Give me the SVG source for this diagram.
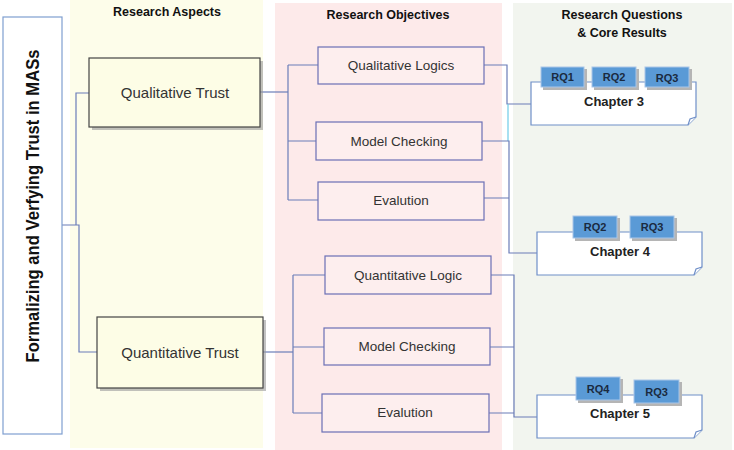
<svg xmlns="http://www.w3.org/2000/svg" width="734" height="450" viewBox="0 0 734 450">
<defs>
<style>
.hdr{font-family:"Liberation Sans",Arial,sans-serif;font-weight:bold;font-size:12.5px;fill:#111;text-anchor:middle;dominant-baseline:central}
.aspect{fill:#fdfde6;stroke:#444;stroke-width:1.2}
.shadow{fill:#9a9a9a;opacity:0.6}
.aspectTxt{font-family:"Liberation Sans",Arial,sans-serif;font-size:15px;fill:#333;text-anchor:middle;dominant-baseline:central}
.obj{fill:#fdeeee;stroke:#6b6fb5;stroke-width:1.2}
.objTxt{font-family:"Liberation Sans",Arial,sans-serif;font-size:13.5px;fill:#333;text-anchor:middle;dominant-baseline:central}
.chap{fill:#fff;stroke:#6f8fc8;stroke-width:1.2}
.chapTxt{font-family:"Liberation Sans",Arial,sans-serif;font-weight:bold;font-size:13px;fill:#222;text-anchor:middle;dominant-baseline:central}
.rq{fill:#5a9ad6;stroke:#a9c6e8;stroke-width:1}
.rqsh{fill:#b5b5b5}
.rqTxt{font-family:"Liberation Sans",Arial,sans-serif;font-weight:bold;font-size:11px;fill:#1a2a40;text-anchor:middle;dominant-baseline:central}
.conn{fill:none;stroke:#6b7db8;stroke-width:1.2}
</style>
</defs>
<!-- background panels -->
<rect x="70" y="0" width="193" height="448" fill="#fdfdea"/>
<rect x="275" y="3" width="227" height="447" fill="#fdeaea"/>
<rect x="513" y="3" width="219" height="447" fill="#f2f5ef"/>
<text class="hdr" x="167" y="12">Research Aspects</text>
<text class="hdr" x="388" y="15">Research Objectives</text>
<text class="hdr" x="622" y="15">Research Questions</text>
<text class="hdr" x="622" y="33">&amp; Core Results</text>

<g id="connectors">
<path class="conn" d="M62,225 H79 V352 H97"/>
<path class="conn" d="M76,225 V93 H89"/>
<path class="conn" d="M260,92 H288"/>
<path class="conn" d="M288,65 V200 M288,65 H318 M288,141 H316 M288,200 H318"/>
<path class="conn" d="M263,352 H293"/>
<path class="conn" d="M293,275 V413 M293,275 H325 M293,347 H324 M293,413 H322"/>
<path class="conn" d="M484,65 H507 V104 H531"/>
<path d="M508,104 V141" stroke="#6fcbe8" stroke-width="1.2" fill="none"/>
<path class="conn" d="M482,141 H509 V253 H537 M484,198 H509"/>
<path class="conn" d="M491,275 H514 V417 H537 M490,347 H514 M489,413 H514"/>
</g>

<g id="main">
<rect x="3" y="17" width="59" height="417" fill="#fff" stroke="#7f9fd0" stroke-width="1.2"/>
<text x="33" y="206" transform="rotate(-90 33 206)" font-family="'Liberation Sans',Arial,sans-serif" font-weight="bold" font-size="18" fill="#111" text-anchor="middle" dominant-baseline="central" textLength="313" lengthAdjust="spacingAndGlyphs">Formalizing and Verfying Trust in MASs</text>
</g>

<g id="qualitative-trust">
<rect class="shadow" x="92" y="61" width="171" height="69"/>
<rect class="aspect" x="89" y="58" width="171" height="69"/>
<text class="aspectTxt" x="175" y="92">Qualitative Trust</text>
</g>
<g id="quantitative-trust">
<rect class="shadow" x="100" y="320" width="166" height="71"/>
<rect class="aspect" x="97" y="317" width="166" height="71"/>
<text class="aspectTxt" x="180" y="352">Quantitative Trust</text>
</g>

<g id="qualitative-logics">
<rect class="obj" x="318" y="47" width="166" height="37"/>
<text class="objTxt" x="401" y="65">Qualitative Logics</text>
</g>
<g id="model-checking-1">
<rect class="obj" x="316" y="122" width="166" height="38"/>
<text class="objTxt" x="399" y="141">Model Checking</text>
</g>
<g id="evalution-1">
<rect class="obj" x="318" y="182" width="166" height="38"/>
<text class="objTxt" x="401" y="200">Evalution</text>
</g>
<g id="quantitative-logic">
<rect class="obj" x="325" y="256" width="166" height="38"/>
<text class="objTxt" x="408" y="275">Quantitative Logic</text>
</g>
<g id="model-checking-2">
<rect class="obj" x="324" y="328" width="166" height="37"/>
<text class="objTxt" x="407" y="346">Model Checking</text>
</g>
<g id="evalution-2">
<rect class="obj" x="322" y="394" width="167" height="38"/>
<text class="objTxt" x="405" y="412">Evalution</text>
</g>

<g id="chapter-3">
<path class="chap" d="M531,82 H696 V117 L688,125 H531 Z"/>
<path class="chap" d="M688,125 L690,119 L696,117"/>
<rect class="rqsh" x="543" y="69" width="44" height="21"/>
<rect class="rq" x="541" y="67" width="43" height="20"/>
<text class="rqTxt" x="562.5" y="77">RQ1</text>
<rect class="rqsh" x="594" y="69" width="45" height="21"/>
<rect class="rq" x="592" y="67" width="44" height="20"/>
<text class="rqTxt" x="614" y="77">RQ2</text>
<rect class="rqsh" x="647" y="69" width="45" height="21"/>
<rect class="rq" x="645" y="67" width="44" height="20"/>
<text class="rqTxt" x="667" y="78">RQ3</text>
<text class="chapTxt" x="614" y="101">Chapter 3</text>
</g>

<g id="chapter-4">
<path class="chap" d="M537,232 H702 V267 L694,275 H537 Z"/>
<path class="chap" d="M694,275 L696,269 L702,267"/>
<rect class="rqsh" x="575" y="218" width="45" height="23"/>
<rect class="rq" x="573" y="216" width="44" height="22"/>
<text class="rqTxt" x="595" y="227">RQ2</text>
<rect class="rqsh" x="632" y="218" width="45" height="23"/>
<rect class="rq" x="630" y="216" width="44" height="22"/>
<text class="rqTxt" x="652" y="227">RQ3</text>
<text class="chapTxt" x="620" y="251">Chapter 4</text>
</g>

<g id="chapter-5">
<path class="chap" d="M537,395 H702 V430 L694,438 H537 Z"/>
<path class="chap" d="M694,438 L696,432 L702,430"/>
<rect class="rqsh" x="578" y="379" width="45" height="24"/>
<rect class="rq" x="576" y="377" width="44" height="23"/>
<text class="rqTxt" x="598" y="388.5">RQ4</text>
<rect class="rqsh" x="636" y="382" width="46" height="24"/>
<rect class="rq" x="634" y="380" width="45" height="23"/>
<text class="rqTxt" x="656.5" y="391.5">RQ3</text>
<text class="chapTxt" x="620" y="413">Chapter 5</text>
</g>
</svg>
